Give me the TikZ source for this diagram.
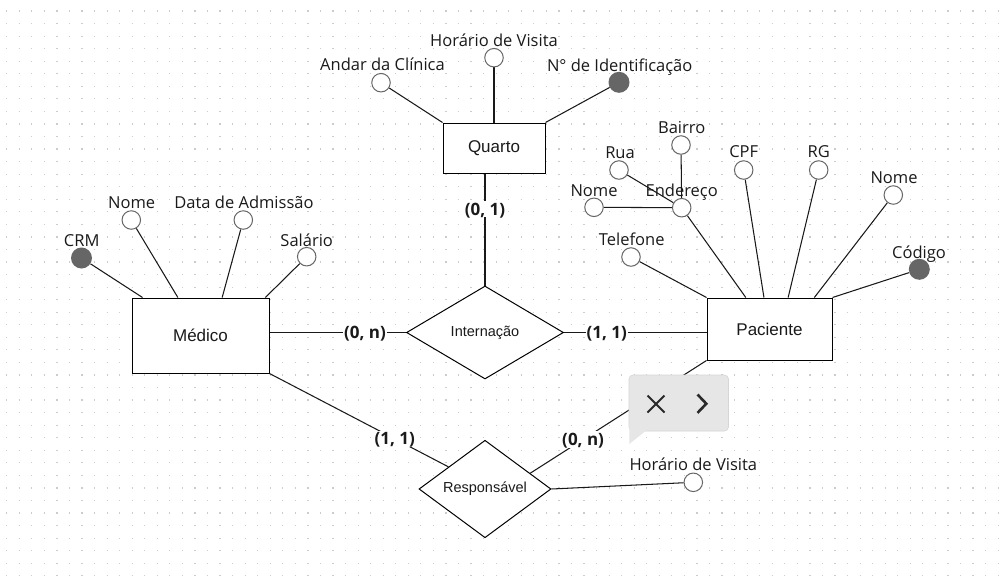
\documentclass[tikz,border=0pt]{standalone}
\usepackage{fontspec}
\setmainfont{Open Sans}
\newfontfamily\entfont{Liberation Sans}
\usetikzlibrary{shapes.geometric,calc}
\definecolor{attrgray}{HTML}{666666}
\definecolor{dotgray}{HTML}{CCCCCC}
\definecolor{popgray}{HTML}{E6E6E6}
\definecolor{popedge}{HTML}{D6D6D6}
\definecolor{iconblack}{HTML}{2A2A2A}
\definecolor{txt}{HTML}{1A1A1A}
\pgfdeclarelayer{gridlayer}
\pgfdeclarelayer{linelayer}
\pgfsetlayers{gridlayer,linelayer,main}
\begin{document}
\begin{tikzpicture}[x=1pt,y=-1pt,
  entity/.style={draw, line width=1pt, fill=white, inner sep=0pt, text=txt,
    font=\entfont\fontsize{17}{20}\selectfont},
  rel/.style={diamond, draw, line width=1pt, fill=white, inner sep=0pt, text=txt,
    font=\entfont\fontsize{14.5}{17}\selectfont},
  attr/.style={circle, draw=attrgray, line width=1pt, fill=white, minimum size=18.5pt, inner sep=0pt},
  keyattr/.style={circle, fill=attrgray, minimum size=21pt, inner sep=0pt},
  lbl/.style={font=\fontsize{16.5}{19}\selectfont, inner sep=0pt, text height=11.8pt, text depth=0pt, text=txt},
  card/.style={font=\bfseries\fontsize{17}{20}\selectfont, fill=white, inner xsep=1pt, inner ysep=2pt,
    text height=12.2pt, text depth=0pt, text=txt},
  conn/.style={line width=1.05pt, black!90}
]
\useasboundingbox (0,0) rectangle (1002,582);
\begin{pgfonlayer}{gridlayer}
  \fill[white] (0,0) rectangle (1002,582);
  \foreach \j in {0,...,45} {
    \draw[dotgray, line width=1.2pt, dash pattern=on 1.2pt off 11.35pt] (6.1,{11+12.55*\j}) -- (1002,{11+12.55*\j});
  }
\end{pgfonlayer}

% entities
\node[entity, minimum width=102pt, minimum height=50pt] (quarto) at (494,148) {Quarto};
\node[entity, minimum width=137pt, minimum height=75pt] (medico) at (200.5,335.5) {Médico};
\node[entity, minimum width=125pt, minimum height=62pt] (paciente) at (769.5,329) {Paciente};

% relationships
\node[rel, minimum width=157pt, minimum height=93pt] (intern) at (485,332.5) {Internação};
\node[rel, minimum width=132pt, minimum height=81pt] (resp) at (485,489) {Responsável};

% Quarto attributes
\node[attr] (andar) at (381,82.7) {};
\node[lbl] at (382.5,65) {Andar da Clínica};
\node[attr] (hv1) at (494,57.7) {};
\node[lbl] at (494,41) {Horário de Visita};
\node[keyattr] (nid) at (619,82.3) {};
\node[lbl] at (619.7,65.7) {N° de Identificação};

% Medico attributes
\node[keyattr] (crm) at (81.5,258) {};
\node[lbl] at (81.7,240.7) {CRM};
\node[attr] (mnome) at (131.3,220) {};
\node[lbl] at (131.7,202.7) {Nome};
\node[attr] (dataadm) at (243.3,220) {};
\node[lbl] at (244,202.7) {Data de Admissão};
\node[attr] (salario) at (306.7,256.7) {};
\node[lbl] at (306.7,240.7) {Salário};

% Paciente attributes
\node[attr] (bairro) at (681,145) {};
\node[lbl] at (681.7,127.3) {Bairro};
\node[attr] (rua) at (619,170) {};
\node[lbl] at (620,152.7) {Rua};
\node[attr] (pnomea) at (594,207.3) {};
\node[lbl] at (594,190.7) {Nome};
\node[attr] (endereco) at (681.7,207.7) {};
\node[lbl] at (681.7,190.7) {Endereço};
\node[attr] (telefone) at (631,257) {};
\node[lbl] at (631.7,240) {Telefone};
\node[attr] (cpf) at (743.7,170) {};
\node[lbl] at (743.7,151.7) {CPF};
\node[attr] (rg) at (818.7,170) {};
\node[lbl] at (818.7,151.7) {RG};
\node[attr] (pnomeb) at (893.3,195) {};
\node[lbl] at (894,177.7) {Nome};
\node[keyattr] (codigo) at (919.3,269.3) {};
\node[lbl] at (919,252.7) {Código};

% Responsavel attribute
\node[attr] (hv2) at (693.3,482.3) {};
\node[lbl] at (693.3,465) {Horário de Visita};

\begin{pgfonlayer}{linelayer}
  % Quarto
  \draw[conn] (andar) -- (quarto.north west);
  \draw[conn] (hv1) -- (quarto.north);
  \draw[conn] (nid) -- (quarto.north east);
  % Medico
  \draw[conn] (crm) -- ($(medico.north west)!0.08!(medico.north east)$);
  \draw[conn] (mnome) -- ($(medico.north west)!0.336!(medico.north east)$);
  \draw[conn] (dataadm) -- ($(medico.north west)!0.657!(medico.north east)$);
  \draw[conn] (salario) -- ($(medico.north west)!0.97!(medico.north east)$);
  % Paciente
  \draw[conn] (telefone) -- (paciente.north west);
  \draw[conn] (endereco) -- ($(paciente.north west)!0.312!(paciente.north east)$);
  \draw[conn] (cpf) -- ($(paciente.north west)!0.456!(paciente.north east)$);
  \draw[conn] (rg) -- ($(paciente.north west)!0.648!(paciente.north east)$);
  \draw[conn] (pnomeb) -- ($(paciente.north west)!0.856!(paciente.north east)$);
  \draw[conn] (codigo) -- (paciente.north east);
  \draw[conn] (rua) -- (endereco);
  \draw[conn] (bairro) -- (endereco);
  \draw[conn] (pnomea) -- (endereco);
  % relationships
  \draw[conn] (quarto.south -| intern.north) -- (intern.north) node[card, pos=0.32] {(0, 1)};
  \draw[conn] (intern.west -| medico.east) -- (intern.west) node[card, pos=0.70] {(0, n)};
  \draw[conn] (intern.east) -- (intern.east -| paciente.west) node[card, pos=0.30] {(1, 1)};
  \draw[conn] (medico.south east) -- ($(resp.north)!0.55!(resp.west)$) node[card, pos=0.70] {(1, 1)};
  \draw[conn] (paciente.south west) -- ($(resp.north)!0.68!(resp.east)$) node[card, pos=0.70] {(0, n)};
  \draw[conn] (resp.east) -- (hv2);
\end{pgfonlayer}

% popup bubble
\filldraw[fill=popgray, draw=popedge, line width=0.6pt, rounded corners=4pt] (629,375) rectangle (728.5,431);
\fill[popgray] (629.3,424) -- (629.3,444) -- (646,430.6) -- (646,424) -- cycle;
\draw[iconblack, line width=1.8pt] (647.5,395.5) -- (664.5,412.5);
\draw[iconblack, line width=1.8pt] (647.5,412.5) -- (664.5,395.5);
\draw[iconblack, line width=2.6pt] (697.5,394.5) -- (706.3,403.7) -- (697.5,412.9);
\end{tikzpicture}
\end{document}
